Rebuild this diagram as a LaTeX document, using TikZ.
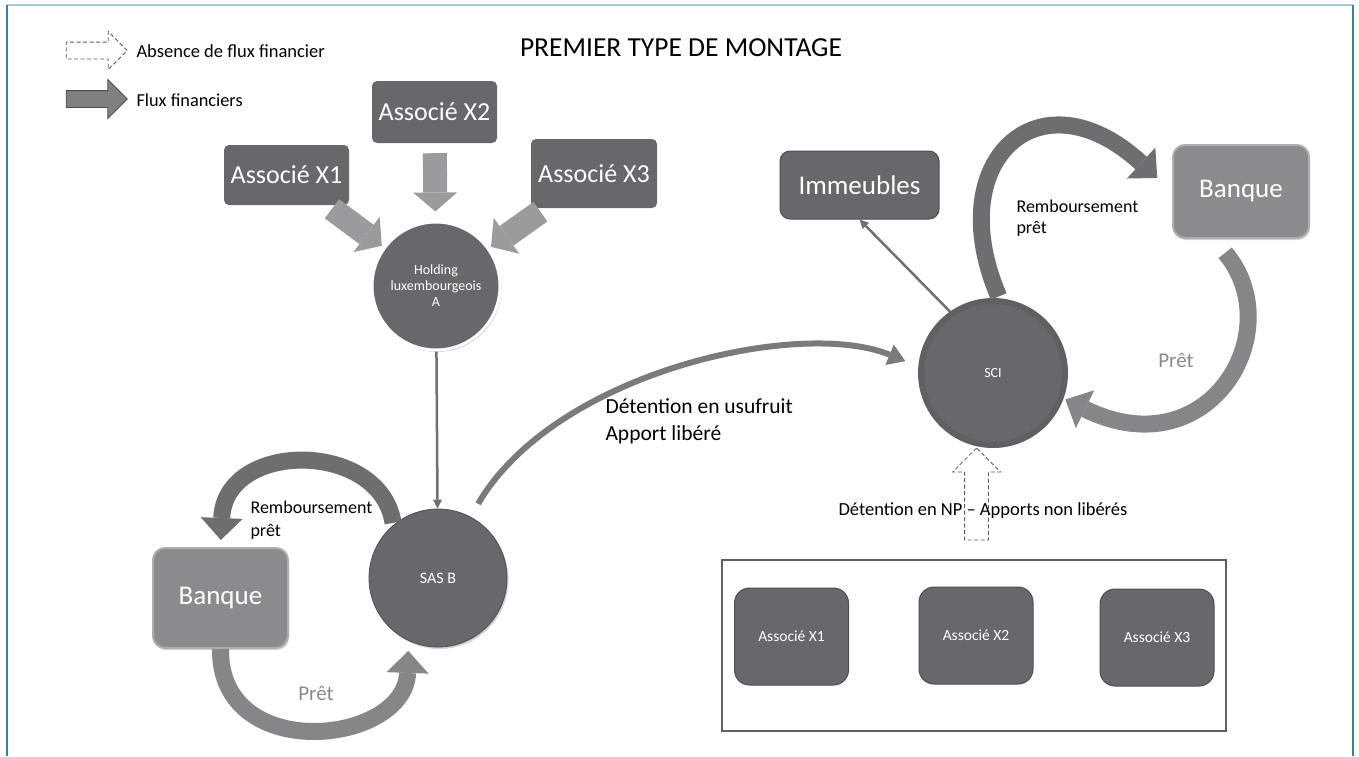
\documentclass[tikz,border=0pt]{standalone}
\usepackage{fontspec}
\setmainfont{Carlito}
\usetikzlibrary{positioning,calc,arrows.meta,shapes.arrows,shadows}
\definecolor{boxgray}{RGB}{104,104,108}
\definecolor{edgegray}{RGB}{78,78,81}
\definecolor{flowgray}{RGB}{155,155,158}
\definecolor{bankgray}{RGB}{139,139,141}
\definecolor{rembgray}{RGB}{110,110,113}
\definecolor{pretgray}{RGB}{134,134,137}
\definecolor{usugray}{RGB}{122,122,125}
\definecolor{linegray}{RGB}{112,112,115}
\definecolor{txtgray}{RGB}{138,138,140}
\definecolor{frameblue}{RGB}{62,128,160}
\definecolor{framelight}{RGB}{166,201,220}

\begin{document}
\begin{tikzpicture}[x=1pt,y=-1pt,
                      assoc/.style={fill=boxgray,rounded corners=5pt,text=white,font=\fontsize{26}{30}\selectfont},
                      assocs/.style={fill=boxgray,draw=edgegray,line width=1pt,rounded corners=15pt,text=white,font=\fontsize{15.5}{18}\selectfont,minimum width=114pt,minimum height=97pt},
                      bank/.style={fill=bankgray,draw=bankgray!70!white,line width=2pt,rounded corners=12pt,text=white,font=\fontsize{27}{32}\selectfont,drop shadow={shadow xshift=1pt,shadow yshift=-2pt,opacity=.3}},
                      circ/.style={circle,fill=boxgray,text=white,inner sep=0pt,align=center,font=\fontsize{14}{16}\selectfont},
                      lbl/.style={font=\fontsize{18}{21}\selectfont,align=left},
                      fatflow/.style={draw=flowgray,line width=24pt,-{Triangle[width=44pt,length=19pt,line width=0pt]}},
                      thinarr/.style={draw=linegray,line width=2.5pt,-{Triangle[width=9pt,length=9pt,line width=0pt]}},
                      rembarr/.style={draw=rembgray,line width=17pt,-{Triangle[width=42pt,length=22pt,line width=0pt]}},
                      pretarr/.style={draw=pretgray,line width=17pt,-{Triangle[width=42pt,length=22pt,line width=0pt]}},
                      usuarr/.style={draw=usugray,line width=6pt,-{Triangle[width=22pt,length=17pt,line width=0pt]}}]
                      \useasboundingbox (0,0) rectangle (1359,756);
                      \draw[framelight,line width=2pt] (7,5) -- (1353,5);
                      \draw[frameblue,line width=2pt] (7,5) -- (7,756);
                      \draw[frameblue,line width=2pt] (1353,5) -- (1353,756);

                      \node[single arrow,draw=black!65,dashed,dash pattern=on 4pt off 2.5pt,line width=.8pt,minimum height=61pt,inner sep=8pt,single arrow head extend=10.5pt] (lg1) at (92.5,50.5) {};
                      \node[single arrow,fill=black!50,draw=black!70,line width=.8pt,minimum height=61pt,inner sep=8pt,single arrow head extend=11pt] (lg2) at (92.5,99) {};
                      \node[font=\fontsize{18.5}{22}\selectfont,anchor=west] (lt1) at (133,51) {Absence de flux financier};
                      \node[font=\fontsize{18.3}{22}\selectfont,anchor=west] (lt2) at (133,100) {Flux financiers};
                      \node[font=\fontsize{27.5}{33}\selectfont] (title) at (681,48) {PREMIER TYPE DE MONTAGE};

                      \node[assoc,minimum width=125pt,minimum height=60pt] (x1) at (286.5,175) {Associé X1};
                      \node[assoc,minimum width=125pt,minimum height=62pt] (x2) at (434.5,112) {Associé X2};
                      \node[assoc,minimum width=126pt,minimum height=69pt] (x3) at (594,173.5) {Associé X3};
                      \node[circ,minimum size=128pt,draw=white,line width=3pt,drop shadow={shadow xshift=1.5pt,shadow yshift=-2pt,opacity=.35}] (hold) at (436,286) {Holding\\luxembourgeois\\A};
                      \node[circ,minimum size=138pt,draw=edgegray,line width=.8pt,font=\fontsize{16}{18}\selectfont,drop shadow={shadow xshift=1.5pt,shadow yshift=-2pt,opacity=.35}] (sasb) at (438,578) {SAS B};
                      \node[bank,minimum width=135pt,minimum height=100pt] (bankl) at (220.5,598) {Banque};

                      \node[circ,minimum size=144pt,draw=edgegray!90,line width=6pt] (sci) at (993,373) {SCI};
                      \node[fill=boxgray,draw=edgegray,line width=1pt,rounded corners=10pt,text=white,font=\fontsize{27}{32}\selectfont,minimum width=159pt,minimum height=68pt] (imm) at (859.5,185) {Immeubles};
                      \node[bank,minimum width=136pt,minimum height=93pt] (bankr) at (1241,191.5) {Banque};

                      \node[draw=edgegray!90,line width=1.5pt,minimum width=504pt,minimum height=171pt] (npbox) at (974,645.5) {};
                      \node[assocs] (n1) at (791.5,636.5) {Associé X1};
                      \node[assocs] (n2) at (976,635.5) {Associé X2};
                      \node[assocs] (n3) at (1157,637.5) {Associé X3};

                      \draw[fatflow,shorten <=6pt,shorten >=2pt] (x1) -- (hold);
                      \draw[fatflow,shorten <=10pt,shorten >=9pt] (x2) -- (hold);
                      \draw[fatflow,shorten <=6pt,shorten >=2pt] (x3) -- (hold);
                      \draw[thinarr] (hold) -- (sasb);
                      \draw[thinarr] (sci.125) -- (imm.south);

                      \draw[rembarr,shorten <=2pt,shorten >=7pt] (sasb.130) .. controls (380,440) and (225,440) .. (bankl.north);
                      \draw[pretarr,shorten >=10pt] (bankl.south) .. controls (219,765) and (405,745) .. (sasb.-115);
                      \draw[usuarr,shorten <=15pt,shorten >=14pt] (sasb.62) .. controls (555,372) and (800,318) .. (sci.175);
                      \draw[rembarr,shorten <=2pt,shorten >=20pt] (sci.85) .. controls (940,160) and (1040,70) .. (bankr.180);
                      \draw[pretarr,shorten <=18pt,shorten >=2pt] (bankr.-120) .. controls (1290,330) and (1210,470) .. (sci.-20);

                      \node[single arrow,draw=black!65,dashed,dash pattern=on 4pt off 2.5pt,line width=.8pt,minimum height=92pt,inner sep=11.5pt,single arrow head extend=12pt,rotate=90] (nparr) at (976.5,500) {};

                      \node[lbl,anchor=west] (rt1) at (1013,218) {Remboursement\\prêt};
                      \node[lbl,anchor=west,font=\fontsize{18}{23}\selectfont] (rt2) at (247,520) {Remboursement\\prêt};
                      \node[font=\fontsize{21}{25}\selectfont,text=txtgray] (pt1) at (1176,360) {Prêt};
                      \node[font=\fontsize{21}{25}\selectfont,text=txtgray] (pt2) at (316,693) {Prêt};
                      \node[lbl,anchor=west,font=\fontsize{21.5}{27}\selectfont] (ut) at (602,421) {Détention en usufruit\\Apport libéré};
                      \node[font=\fontsize{18.5}{22}\selectfont] (npt) at (983,511) {Détention en NP – Apports non libérés};
                    \end{tikzpicture}
\end{document}
